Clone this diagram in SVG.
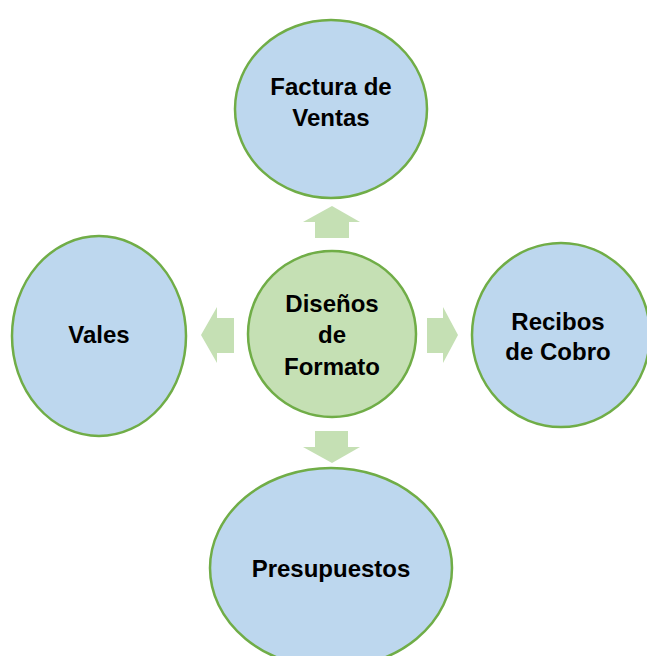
<svg xmlns="http://www.w3.org/2000/svg" width="647" height="656" viewBox="0 0 647 656">
<style>
.n{fill:#BDD7EE;stroke:#70AD47;stroke-width:2.5}
.c{fill:#C5E0B4;stroke:#70AD47;stroke-width:2.5}
.a{fill:#C5E0B4}
text{font-family:"Liberation Sans",Arial,sans-serif;font-weight:bold;font-size:24px;fill:#000;text-anchor:middle}
</style>
<rect width="647" height="656" fill="#fff"/>
<g id="connectors">
<polygon class="a" points="332,206 360,222 349,222 349,238 315,238 315,222 303,222"/>
<polygon class="a" points="201,335 217,307 217,318 234,318 234,353 217,353 217,363"/>
<polygon class="a" points="458,335 443,307 443,318 427,318 427,353 443,353 443,363"/>
<polygon class="a" points="332,463 360,447 348,447 348,431 315,431 315,447 303,447"/>
</g>
<g id="factura">
<ellipse class="n" cx="331" cy="109" rx="96" ry="89"/>
<text x="331" y="95">Factura de</text>
<text x="331" y="126">Ventas</text>
</g>
<g id="vales">
<ellipse class="n" cx="99" cy="336" rx="87" ry="100"/>
<text x="99" y="343">Vales</text>
</g>
<g id="recibos">
<ellipse class="n" cx="561" cy="335" rx="89" ry="92"/>
<text x="558" y="330">Recibos</text>
<text x="558" y="360">de Cobro</text>
</g>
<g id="presupuestos">
<ellipse class="n" cx="331" cy="568" rx="121" ry="100"/>
<text x="331" y="577">Presupuestos</text>
</g>
<g id="disenos">
<ellipse class="c" cx="332" cy="334" rx="84" ry="83"/>
<text x="332" y="312">Diseños</text>
<text x="332" y="343">de</text>
<text x="332" y="375">Formato</text>
</g>
</svg>
